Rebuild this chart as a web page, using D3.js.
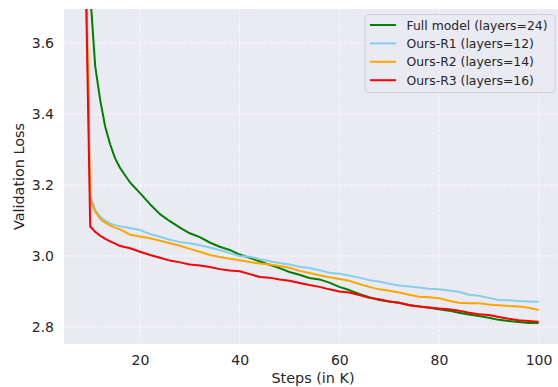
<!DOCTYPE html>
<html>
<head>
<meta charset="utf-8">
<script src="https://cdn.jsdelivr.net/npm/d3@7"></script>
<style>
  body { margin: 0; background: #fff; }
  svg { display: block; font-family: "DejaVu Sans", sans-serif; }
</style>
</head>
<body>
<svg id="chart" width="558" height="387"></svg>
<script>
// steps in K (first point is the initial loss, far above the view)
let steps = [6.3, 10, 11, 12, 13, 14, 15, 16, 18, 20, 22, 24, 26, 28, 30, 32, 34, 36, 38, 40,
  42, 44, 46, 48, 50, 52, 54, 56, 58, 60, 62, 64, 66, 68, 70, 72, 74, 76, 78, 80,
  82, 84, 86, 88, 90, 92, 94, 96, 98, 100];

let fullModel = [6.0, 3.74, 3.535, 3.44, 3.365, 3.315, 3.275, 3.248, 3.207, 3.177, 3.146, 3.118, 3.098, 3.08, 3.064, 3.053, 3.038, 3.026, 3.017, 3.004,
  2.995, 2.985, 2.975, 2.966, 2.955, 2.947, 2.938, 2.934, 2.925, 2.913, 2.904, 2.893, 2.884, 2.876, 2.872, 2.868, 2.862, 2.858, 2.854, 2.85,
  2.846, 2.84, 2.835, 2.831, 2.826, 2.82, 2.817, 2.814, 2.811, 2.811];

let oursR1 = [6.0, 3.17, 3.13, 3.111, 3.1, 3.092, 3.087, 3.084, 3.079, 3.073, 3.062, 3.054, 3.046, 3.039, 3.036, 3.03, 3.024, 3.017, 3.008, 3.0,
  2.998, 2.991, 2.985, 2.98, 2.976, 2.97, 2.966, 2.96, 2.953, 2.95, 2.945, 2.939, 2.932, 2.928, 2.922, 2.917, 2.914, 2.911, 2.908, 2.906,
  2.903, 2.899, 2.891, 2.888, 2.882, 2.876, 2.875, 2.873, 2.872, 2.871];

let oursR2 = [6.0, 3.16, 3.125, 3.105, 3.094, 3.086, 3.08, 3.075, 3.06, 3.055, 3.05, 3.043, 3.036, 3.029, 3.02, 3.012, 3.003, 2.997, 2.992, 2.988,
  2.983, 2.979, 2.976, 2.972, 2.967, 2.958, 2.952, 2.946, 2.94, 2.935, 2.93, 2.921, 2.913, 2.906, 2.902, 2.897, 2.891, 2.885, 2.884, 2.881,
  2.874, 2.868, 2.867, 2.867, 2.863, 2.861, 2.859, 2.858, 2.854, 2.848];

let oursR3 = [6.0, 3.083, 3.068, 3.057, 3.048, 3.041, 3.035, 3.028, 3.022, 3.012, 3.003, 2.995, 2.987, 2.982, 2.976, 2.973, 2.969, 2.963, 2.959, 2.957,
  2.949, 2.941, 2.939, 2.934, 2.93, 2.924, 2.918, 2.913, 2.906, 2.9, 2.897, 2.89, 2.882, 2.878, 2.872, 2.868, 2.861, 2.858, 2.855, 2.852,
  2.85, 2.846, 2.84, 2.836, 2.834, 2.828, 2.823, 2.819, 2.817, 2.815];

let seriesNames = ["Full model (layers=24)", "Ours-R1 (layers=12)", "Ours-R2 (layers=14)", "Ours-R3 (layers=16)"];
let seriesColors = ["green", "skyblue", "orange", "red"];
let seriesValues = [fullModel, oursR1, oursR2, oursR3];

let xTicks = [20, 40, 60, 80, 100];
let yTicks = [2.8, 3.0, 3.2, 3.4, 3.6];

let svg = d3.select("#chart");
let plotLeft = 64, plotTop = 9, plotRight = 558, plotBottom = 344;

let xScale = d3.scaleLinear().domain([4.74, 103.9]).range([plotLeft, plotRight]);
let yScale = d3.scaleLinear().domain([2.752, 3.696]).range([plotBottom, plotTop]);

svg.append("rect")
   .attr("x", plotLeft).attr("y", plotTop)
   .attr("width", plotRight - plotLeft).attr("height", plotBottom - plotTop)
   .attr("fill", "#eaeaf2");

// grid
let grid = svg.append("g");
grid.selectAll(".gx").data(xTicks).enter().append("line")
    .attr("x1", d => xScale(d)).attr("x2", d => xScale(d))
    .attr("y1", plotTop).attr("y2", plotBottom);
grid.selectAll(".gy").data(yTicks).enter().append("line")
    .attr("y1", d => yScale(d)).attr("y2", d => yScale(d))
    .attr("x1", plotLeft).attr("x2", plotRight);
grid.selectAll("line")
    .attr("stroke", "#ffffff").attr("stroke-width", 0.9)
    .attr("stroke-dasharray", "3.5,1.5").attr("opacity", 0.85);

// axes (ticks hidden like the seaborn style)
let xAxis = svg.append("g").attr("transform", `translate(0,${plotBottom})`)
   .call(d3.axisBottom(xScale).tickValues(xTicks).tickSize(0).tickPadding(11).tickFormat(d3.format("d")));
let yAxis = svg.append("g").attr("transform", `translate(${plotLeft},0)`)
   .call(d3.axisLeft(yScale).tickValues(yTicks).tickSize(0).tickPadding(10).tickFormat(d3.format(".1f")));
[xAxis, yAxis].forEach(a => {
  a.select(".domain").remove();
  a.selectAll("text").attr("font-size", 14).attr("fill", "#262626")
   .attr("font-family", "DejaVu Sans");
});

svg.append("text")
   .attr("x", (plotLeft + plotRight) / 2 + 2).attr("y", 383)
   .attr("text-anchor", "middle").attr("font-size", 14.4).attr("fill", "#262626")
   .text("Steps (in K)");
svg.append("text")
   .attr("transform", "translate(24," + (plotTop + plotBottom) / 2 + ") rotate(-90)")
   .attr("text-anchor", "middle").attr("font-size", 14.4).attr("fill", "#262626")
   .text("Validation Loss");

// lines
svg.append("clipPath").attr("id", "plotClip").append("rect")
   .attr("x", plotLeft).attr("y", plotTop).attr("width", plotRight - plotLeft).attr("height", plotBottom - plotTop);

let line = d3.line()
   .x((d, i) => xScale(steps[i]))
   .y(d => yScale(d));

svg.append("g").attr("clip-path", "url(#plotClip)")
   .selectAll("path").data(seriesValues).enter().append("path")
   .attr("d", d => line(d))
   .attr("fill", "none")
   .attr("stroke", (d, i) => seriesColors[i])
   .attr("stroke-width", 2)
   .attr("stroke-linejoin", "round");

// legend
let legend = svg.append("g");
legend.append("rect")
   .attr("x", 365).attr("y", 14.5).attr("width", 190).attr("height", 78)
   .attr("rx", 3).attr("fill", "#eaeaf2").attr("fill-opacity", 0.8)
   .attr("stroke", "#cccccc").attr("stroke-width", 0.8);
let rows = legend.selectAll(".row").data(seriesNames).enter().append("g")
   .attr("transform", (d, i) => `translate(0,${25 + i * 18.4})`);
rows.append("line")
   .attr("x1", 370).attr("x2", 396).attr("y1", 0).attr("y2", 0)
   .attr("stroke", (d, i) => seriesColors[i]).attr("stroke-width", 2);
rows.append("text")
   .attr("x", 406.5).attr("y", 4.5)
   .attr("font-size", 12.4).attr("fill", "#262626")
   .text(d => d);
</script>
</body>
</html>
